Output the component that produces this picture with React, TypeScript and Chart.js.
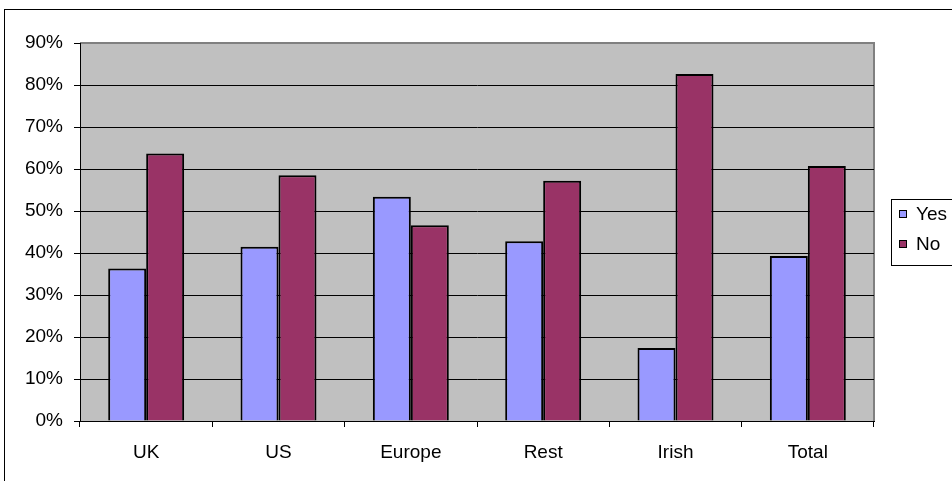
import React, { useEffect, useRef } from "react";
import { Chart, registerables } from "chart.js";

Chart.register(...registerables);

const categories = ["UK", "US", "Europe", "Rest", "Irish", "Total"];
const yesValues = [36.3, 41.5, 53.4, 42.8, 17.4, 39.3];
const noValues = [63.7, 58.5, 46.6, 57.2, 82.6, 60.7];
const seriesNames = ["Yes", "No"];
const seriesColors = ["#9999FF", "#993366"];
const yTicks = [0, 10, 20, 30, 40, 50, 60, 70, 80, 90];

const FONT = "'Liberation Sans', Arial, sans-serif";
const FONT_SIZE = 19;

const framePlugin = {
  id: "frame",
  beforeDraw(chart: any) {
    const { ctx, chartArea } = chart;
    ctx.save();
    ctx.fillStyle = "#ffffff";
    ctx.fillRect(0, 0, chart.width, chart.height);
    ctx.strokeStyle = "#000000";
    ctx.lineWidth = 1;
    ctx.strokeRect(4.5, 9.5, chart.width + 10, chart.height + 10);
    ctx.fillStyle = "#C0C0C0";
    ctx.fillRect(chartArea.left, chartArea.top, chartArea.right - chartArea.left, chartArea.bottom - chartArea.top);
    ctx.strokeStyle = "#808080";
    ctx.lineWidth = 2;
    ctx.beginPath();
    ctx.moveTo(chartArea.left, chartArea.top);
    ctx.lineTo(chartArea.right, chartArea.top);
    ctx.lineTo(chartArea.right, chartArea.bottom);
    ctx.stroke();
    ctx.restore();
  },
  afterDraw(chart: any) {
    const { ctx } = chart;
    ctx.save();
    ctx.strokeStyle = "#000000";
    ctx.lineWidth = 1;
    ctx.strokeRect(891.5, 199.5, 80, 66);
    ctx.font = `${FONT_SIZE}px ${FONT}`;
    ctx.textBaseline = "middle";
    ctx.textAlign = "left";
    chart.data.datasets.forEach((ds: any, i: number) => {
      const cy = 214 + i * 30;
      ctx.fillStyle = ds.backgroundColor;
      ctx.fillRect(899, cy - 4, 8, 8);
      ctx.strokeStyle = "#000";
      ctx.strokeRect(899.5, cy - 3.5, 7, 7);
      ctx.fillStyle = "#000";
      ctx.fillText(ds.label, 916, cy + 1);
    });
    ctx.restore();
  },
};

export default function App() {
  const ref = useRef<HTMLCanvasElement>(null);
  useEffect(() => {
    if (!ref.current) return;
    const chart = new Chart(ref.current, {
      type: "bar",
      data: {
        labels: categories,
        datasets: [
          {
            label: seriesNames[0],
            data: yesValues,
            backgroundColor: seriesColors[0],
            borderColor: "#000000",
            borderWidth: 2,
            categoryPercentage: 0.574,
            barPercentage: 1,
          },
          {
            label: seriesNames[1],
            data: noValues,
            backgroundColor: seriesColors[1],
            borderColor: "#000000",
            borderWidth: 2,
            categoryPercentage: 0.574,
            barPercentage: 1,
          },
        ],
      },
      options: {
        animation: false,
        responsive: false,
        maintainAspectRatio: false,
        layout: { padding: { left: 0, top: 43, right: 78, bottom: 0 } },
        plugins: { legend: { display: false }, tooltip: { enabled: false } },
        scales: {
          x: {
            afterFit: (s: any) => {
              s.height = 60;
            },
            grid: {
              offset: true,
              drawOnChartArea: false,
              drawTicks: true,
              tickLength: 6,
              color: "#000000",
            },
            border: { color: "#000000", width: 1 },
            ticks: {
              color: "#000000",
              font: { family: FONT, size: FONT_SIZE },
              padding: 14,
            },
          },
          y: {
            min: 0,
            max: 90,
            afterFit: (s: any) => {
              s.width = 80;
            },
            afterBuildTicks: (s: any) => {
              s.ticks = yTicks.map((v) => ({ value: v }));
            },
            grid: {
              color: (c: any) => (c.tick && c.tick.value === 90 ? "#808080" : "#000000"),
              tickColor: "#000000",
              drawTicks: true,
              tickLength: 6,
            },
            border: { color: "#000000", width: 1 },
            ticks: {
              color: "#000000",
              font: { family: FONT, size: FONT_SIZE },
              padding: 11,
              callback: (v: any) => `${v}%`,
            },
          },
        },
      },
      plugins: [framePlugin],
    });
    return () => chart.destroy();
  }, []);
  return (
    <div style={{ position: "fixed", left: 0, top: 0, width: 952, height: 481 }}>
      <canvas ref={ref} width={952} height={481} style={{ width: 952, height: 481, display: "block" }} />
    </div>
  );
}
